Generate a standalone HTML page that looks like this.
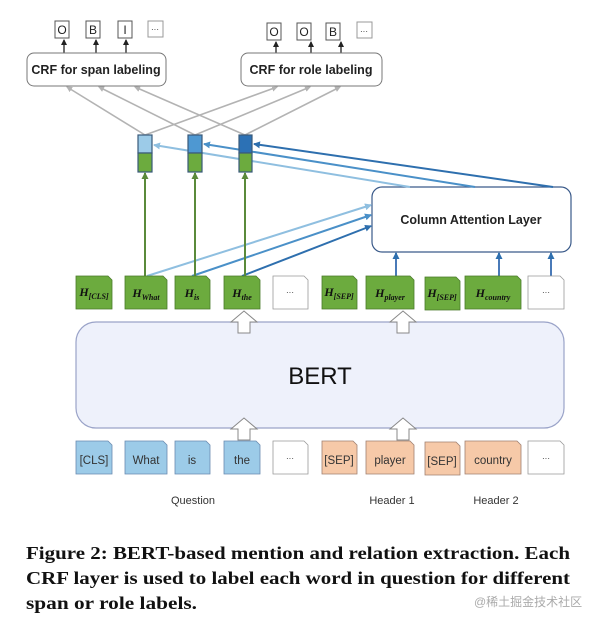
<!DOCTYPE html>
<html><head><meta charset="utf-8"><style>
body{margin:0;background:#fff}
svg{display:block}
.s{font-family:"Liberation Sans",sans-serif}
</style></head><body>
<svg width="606" height="625" viewBox="0 0 606 625" xmlns="http://www.w3.org/2000/svg">
<defs>
<marker id="ag" markerWidth="6" markerHeight="6" refX="5" refY="3" orient="auto" markerUnits="userSpaceOnUse"><path d="M0,0L6,3L0,6z" fill="#b3b3b3"/></marker>
<marker id="ak" markerWidth="6" markerHeight="6" refX="5" refY="3" orient="auto" markerUnits="userSpaceOnUse"><path d="M0,0L6,3L0,6z" fill="#222"/></marker>
<marker id="agr" markerWidth="7" markerHeight="7" refX="6" refY="3.5" orient="auto" markerUnits="userSpaceOnUse"><path d="M0,0L7,3.5L0,7z" fill="#5a8a3a"/></marker>
<marker id="al" markerWidth="7" markerHeight="7" refX="6" refY="3.5" orient="auto" markerUnits="userSpaceOnUse"><path d="M0,0L7,3.5L0,7z" fill="#8fbfe0"/></marker>
<marker id="am" markerWidth="7" markerHeight="7" refX="6" refY="3.5" orient="auto" markerUnits="userSpaceOnUse"><path d="M0,0L7,3.5L0,7z" fill="#4a90c8"/></marker>
<marker id="ad" markerWidth="7" markerHeight="7" refX="6" refY="3.5" orient="auto" markerUnits="userSpaceOnUse"><path d="M0,0L7,3.5L0,7z" fill="#2e6fae"/></marker>
</defs>
<g class="s" font-size="12" text-anchor="middle" fill="#222">
<!-- top labels -->
<g fill="#fff" stroke="#555" stroke-width="1">
<rect x="55" y="21" width="14" height="17"/><rect x="86" y="21" width="14" height="17"/><rect x="118" y="21" width="14" height="17"/><rect x="148" y="21" width="15" height="16" stroke="#999"/>
<rect x="267" y="23" width="14" height="17"/><rect x="297" y="23" width="14" height="17"/><rect x="326" y="23" width="14" height="17"/><rect x="357" y="22" width="15" height="16" stroke="#999"/>
</g>
<g fill="#222"><text x="62" y="34">O</text><text x="93" y="34">B</text><text x="125" y="34">I</text><text x="155" y="32" font-size="8">···</text>
<text x="274" y="36">O</text><text x="304" y="36">O</text><text x="333" y="36">B</text><text x="364" y="34" font-size="8">···</text></g>
<g stroke="#222" stroke-width="1.3"><line x1="64" y1="53" x2="64" y2="40" marker-end="url(#ak)"/><line x1="96" y1="53" x2="96" y2="40" marker-end="url(#ak)"/><line x1="126" y1="53" x2="126" y2="40" marker-end="url(#ak)"/>
<line x1="276" y1="53" x2="276" y2="42" marker-end="url(#ak)"/><line x1="311" y1="53" x2="311" y2="42" marker-end="url(#ak)"/><line x1="341" y1="53" x2="341" y2="42" marker-end="url(#ak)"/></g>
<rect x="27" y="53" width="139" height="33" rx="7" fill="#fff" stroke="#777"/>
<rect x="241" y="53" width="141" height="33" rx="7" fill="#fff" stroke="#777"/>
<text x="96" y="74" font-weight="bold" font-size="12.5">CRF for span labeling</text>
<text x="311" y="74" font-weight="bold" font-size="12.5">CRF for role labeling</text>
<!-- grey lines -->
<g stroke="#b3b3b3" stroke-width="1.6">
<line x1="145" y1="135" x2="67" y2="87" marker-end="url(#ag)"/><line x1="145" y1="135" x2="277" y2="87" marker-end="url(#ag)"/>
<line x1="195" y1="135" x2="99" y2="87" marker-end="url(#ag)"/><line x1="195" y1="135" x2="310" y2="87" marker-end="url(#ag)"/>
<line x1="245" y1="135" x2="135" y2="87" marker-end="url(#ag)"/><line x1="245" y1="135" x2="340" y2="87" marker-end="url(#ag)"/>
</g>
<!-- column attention -->
<rect x="372" y="187" width="199" height="65" rx="10" fill="#fff" stroke="#3a5a8a" stroke-width="1.2"/>
<text x="471" y="224" font-weight="bold" font-size="12.5">Column Attention Layer</text>
<!-- lines from column box to vectors -->
<line x1="410" y1="187" x2="154" y2="145" stroke="#8fbfe0" stroke-width="2" marker-end="url(#al)"/>
<line x1="475" y1="187" x2="204" y2="144" stroke="#4a90c8" stroke-width="2" marker-end="url(#am)"/>
<line x1="553" y1="187" x2="254" y2="144" stroke="#2e6fae" stroke-width="2" marker-end="url(#ad)"/>
<!-- lines from H to column box -->
<line x1="147" y1="276" x2="371" y2="205" stroke="#8fbfe0" stroke-width="2" marker-end="url(#al)"/>
<line x1="192" y1="276" x2="371" y2="215" stroke="#4a90c8" stroke-width="2" marker-end="url(#am)"/>
<line x1="242" y1="276" x2="371" y2="226" stroke="#2e6fae" stroke-width="2" marker-end="url(#ad)"/>
<g stroke="#4a7ab8" stroke-width="2"><line x1="396" y1="276" x2="396" y2="253" marker-end="url(#ad)"/><line x1="499" y1="276" x2="499" y2="253" marker-end="url(#ad)"/><line x1="551" y1="276" x2="551" y2="253" marker-end="url(#ad)"/></g>
<!-- vectors -->
<g stroke="#3a5a7a" stroke-width="1.2">
<rect x="138" y="135" width="14" height="18" fill="#9ccbe8"/><rect x="138" y="153" width="14" height="19" fill="#6cab3e"/>
<rect x="188" y="135" width="14" height="18" fill="#4e98d2"/><rect x="188" y="153" width="14" height="19" fill="#6cab3e"/>
<rect x="239" y="135" width="13" height="18" fill="#2c71b5"/><rect x="239" y="153" width="13" height="19" fill="#6cab3e"/>
</g>
<g stroke="#5a8a3a" stroke-width="2"><line x1="145" y1="276" x2="145" y2="173" marker-end="url(#agr)"/><line x1="195" y1="276" x2="195" y2="173" marker-end="url(#agr)"/><line x1="245" y1="276" x2="245" y2="173" marker-end="url(#agr)"/></g>
<!-- BERT -->
<rect x="76" y="322" width="488" height="106" rx="20" fill="#eef1fb" stroke="#9aa3c8" stroke-width="1.2"/>
<text x="320" y="384" font-size="24" fill="#111">BERT</text>
<!-- block arrows -->
<g fill="#fff" stroke="#888" stroke-width="1"><path d="M238,333 V322 H231 L244,311 L257,322 H250 V333 Z"/><path d="M397,333 V322 H390 L403,311 L416,322 H409 V333 Z"/>
<path d="M238,440 V429 H231 L244,418 L257,429 H250 V440 Z"/><path d="M397,440 V429 H390 L403,418 L416,429 H409 V440 Z"/></g>
<!-- H boxes -->
<g stroke="#4a7a2a" stroke-width="0.8">
<path d="M76,276 H108 L112,280 V309 H76 Z" fill="#6cab3e"/>
<path d="M125,276 H163 L167,280 V309 H125 Z" fill="#6cab3e"/>
<path d="M175,276 H206 L210,280 V309 H175 Z" fill="#6cab3e"/>
<path d="M224,276 H256 L260,280 V309 H224 Z" fill="#6cab3e"/>
<path d="M273,276 H304 L308,280 V309 H273 Z" fill="#fff" stroke="#999"/>
<path d="M322,276 H353 L357,280 V309 H322 Z" fill="#6cab3e"/>
<path d="M366,276 H410 L414,280 V309 H366 Z" fill="#6cab3e"/>
<path d="M425,277 H456 L460,281 V310 H425 Z" fill="#6cab3e"/>
<path d="M465,276 H517 L521,280 V309 H465 Z" fill="#6cab3e"/>
<path d="M528,276 H560 L564,280 V309 H528 Z" fill="#fff" stroke="#999"/>
</g>
<g font-family="Liberation Serif,serif" font-style="italic" font-weight="bold" fill="#111" font-size="12">
<text x="94" y="296">H<tspan font-size="8" dy="3">[CLS]</tspan></text>
<text x="146" y="297">H<tspan font-size="8" dy="3">What</tspan></text>
<text x="192" y="297">H<tspan font-size="8" dy="3">is</tspan></text>
<text x="242" y="297">H<tspan font-size="8" dy="3">the</tspan></text>
<text x="339" y="296">H<tspan font-size="8" dy="3">[SEP]</tspan></text>
<text x="390" y="297">H<tspan font-size="8" dy="3">player</tspan></text>
<text x="442" y="297">H<tspan font-size="8" dy="3">[SEP]</tspan></text>
<text x="493" y="297">H<tspan font-size="8" dy="3">country</tspan></text>
</g>
<text x="290" y="295" font-size="8">···</text><text x="546" y="295" font-size="8">···</text>
<!-- input boxes -->
<g stroke-width="0.8">
<path d="M76,441 H108 L112,445 V474 H76 Z" fill="#9ccbe8" stroke="#6a8ab0"/>
<path d="M125,441 H163 L167,445 V474 H125 Z" fill="#9ccbe8" stroke="#6a8ab0"/>
<path d="M175,441 H206 L210,445 V474 H175 Z" fill="#9ccbe8" stroke="#6a8ab0"/>
<path d="M224,441 H256 L260,445 V474 H224 Z" fill="#9ccbe8" stroke="#6a8ab0"/>
<path d="M273,441 H304 L308,445 V474 H273 Z" fill="#fff" stroke="#999"/>
<path d="M322,441 H353 L357,445 V474 H322 Z" fill="#f6c9a8" stroke="#a08070"/>
<path d="M366,441 H410 L414,445 V474 H366 Z" fill="#f6c9a8" stroke="#a08070"/>
<path d="M425,442 H456 L460,446 V475 H425 Z" fill="#f6c9a8" stroke="#a08070"/>
<path d="M465,441 H517 L521,445 V474 H465 Z" fill="#f6c9a8" stroke="#a08070"/>
<path d="M528,441 H560 L564,445 V474 H528 Z" fill="#fff" stroke="#999"/>
</g>
<g font-size="11.5" fill="#333">
<text x="94" y="464">[CLS]</text><text x="146" y="464">What</text><text x="192" y="464">is</text><text x="242" y="464">the</text>
<text x="339" y="464">[SEP]</text><text x="390" y="464">player</text><text x="442" y="465">[SEP]</text><text x="493" y="464">country</text>
</g>
<text x="290" y="461" font-size="8">···</text><text x="546" y="461" font-size="8">···</text>
<g font-size="11" fill="#333"><text x="193" y="504">Question</text><text x="392" y="504">Header 1</text><text x="496" y="504">Header 2</text></g>
</g>
<g font-family="Liberation Serif,serif" font-weight="bold" font-size="18" fill="#111">
<text x="26" y="559" textLength="544" lengthAdjust="spacingAndGlyphs">Figure 2: BERT-based mention and relation extraction. Each</text>
<text x="26" y="584" textLength="544" lengthAdjust="spacingAndGlyphs">CRF layer is used to label each word in question for different</text>
<text x="26" y="609" textLength="171" lengthAdjust="spacingAndGlyphs">span or role labels.</text>
</g>
<text x="474" y="606" font-family="'Liberation Sans','Noto Sans CJK SC',sans-serif" font-size="12" fill="#aaa">@稀土掘金技术社区</text>
</svg>
</body></html>
